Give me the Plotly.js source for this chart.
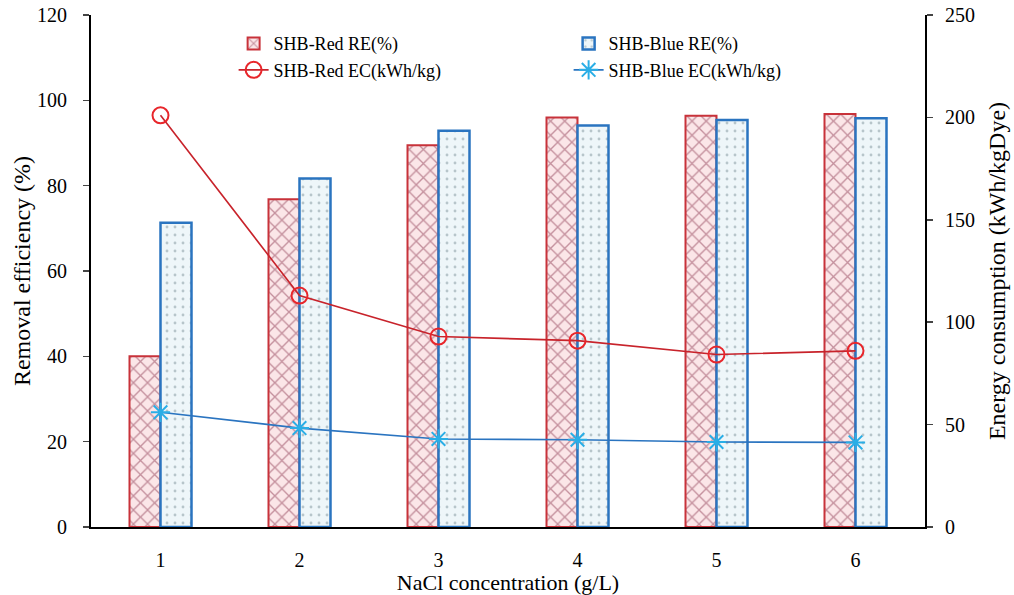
<!DOCTYPE html>
<html>
<head>
<meta charset="utf-8">
<script src="https://cdn.plot.ly/plotly-3.0.1.min.js"></script>
<style>html,body{margin:0;padding:0;background:#fff;}#chart{width:1014px;height:595px;}</style>
</head>
<body>
<div id="chart"></div>
<script>
const categories = [1, 2, 3, 4, 5, 6];
const redRE = [40, 76.8, 89.5, 96.0, 96.4, 96.8];
const blueRE = [71.3, 81.7, 92.9, 94.1, 95.4, 95.8];
const redEC = [201, 113, 93, 91, 84.2, 86];
const blueEC = [56, 48.3, 43, 42.6, 41.5, 41.3];
const xTickLabels = ['1', '2', '3', '4', '5', '6'];

const fontFam = 'Liberation Serif, Times New Roman, serif';

const traces = [
  {
    type: 'bar', x: categories, y: redRE, name: 'SHB-Red RE(%)',
    marker: {
      color: '#fbe6e8',
      line: {color: '#c8323a', width: 2},
      pattern: {shape: 'x', fgcolor: '#8e3a52', bgcolor: '#fbe6e8', size: 10, solidity: 0.25, fillmode: 'overlay'}
    }
  },
  {
    type: 'bar', x: categories, y: blueRE, name: 'SHB-Blue RE(%)',
    marker: {
      color: '#eef6f9',
      line: {color: '#2a74c0', width: 2.5},
      pattern: {shape: '.', fgcolor: '#7f939c', bgcolor: '#eef6f9', size: 8, solidity: 0.1, fillmode: 'overlay'}
    }
  },
  {
    type: 'scatter', mode: 'lines+markers', x: categories, y: redEC, yaxis: 'y2',
    name: 'SHB-Red EC(kWh/kg)',
    line: {color: '#c8232b', width: 1.6},
    marker: {symbol: 'circle-open', size: 16, color: '#e8262b', line: {width: 2, color: '#e8262b'}}
  },
  {
    type: 'scatter', mode: 'lines+markers', x: categories, y: blueEC, yaxis: 'y2',
    name: 'SHB-Blue EC(kWh/kg)',
    line: {color: '#2a74c0', width: 1.6},
    marker: {symbol: 'asterisk-open', size: 16, color: '#2aaee6', line: {width: 2, color: '#2aaee6'}}
  }
];

const layout = {
  width: 1014, height: 595,
  margin: {l: 91, r: 89, t: 15, b: 68},
  paper_bgcolor: '#fff', plot_bgcolor: '#fff',
  font: {family: fontFam, size: 20, color: '#000'},
  barmode: 'group', bargap: 0.554, bargroupgap: 0,
  showlegend: true,
  legend: {
    orientation: 'h', x: 0.171, y: 0.98, xanchor: 'left', yanchor: 'top',
    entrywidth: 290, entrywidthmode: 'pixels',
    font: {family: fontFam, size: 18}, bgcolor: 'rgba(0,0,0,0)', traceorder: 'normal'
  },
  xaxis: {
    range: [0.5, 6.5], tickvals: categories, ticktext: xTickLabels,
    showline: true, linecolor: '#000', linewidth: 2, ticks: '', showgrid: false, zeroline: false,
    ticklabelstandoff: 14,
    title: {text: 'NaCl concentration (g/L)', font: {size: 22}, standoff: 0},
    tickfont: {size: 20}
  },
  yaxis: {
    range: [0, 120], dtick: 20, showline: true, linecolor: '#000', linewidth: 2,
    ticks: 'outside', ticklen: 6, tickwidth: 1.5, showgrid: false, zeroline: false,
    ticklabelstandoff: 12,
    title: {text: 'Removal efficiency (%)', font: {size: 24}, standoff: 0},
    tickfont: {size: 20}
  },
  yaxis2: {
    range: [0, 250], dtick: 50, overlaying: 'y', side: 'right',
    showline: true, linecolor: '#000', linewidth: 2,
    ticks: 'outside', ticklen: 6, tickwidth: 1.5, showgrid: false, zeroline: false,
    ticklabelstandoff: 8,
    title: {text: 'Energy consumption (kWh/kgDye)', font: {size: 24}, standoff: 14},
    tickfont: {size: 20}
  }
};

Plotly.newPlot('chart', traces, layout, {displayModeBar: false, staticPlot: true});
</script>
</body>
</html>
